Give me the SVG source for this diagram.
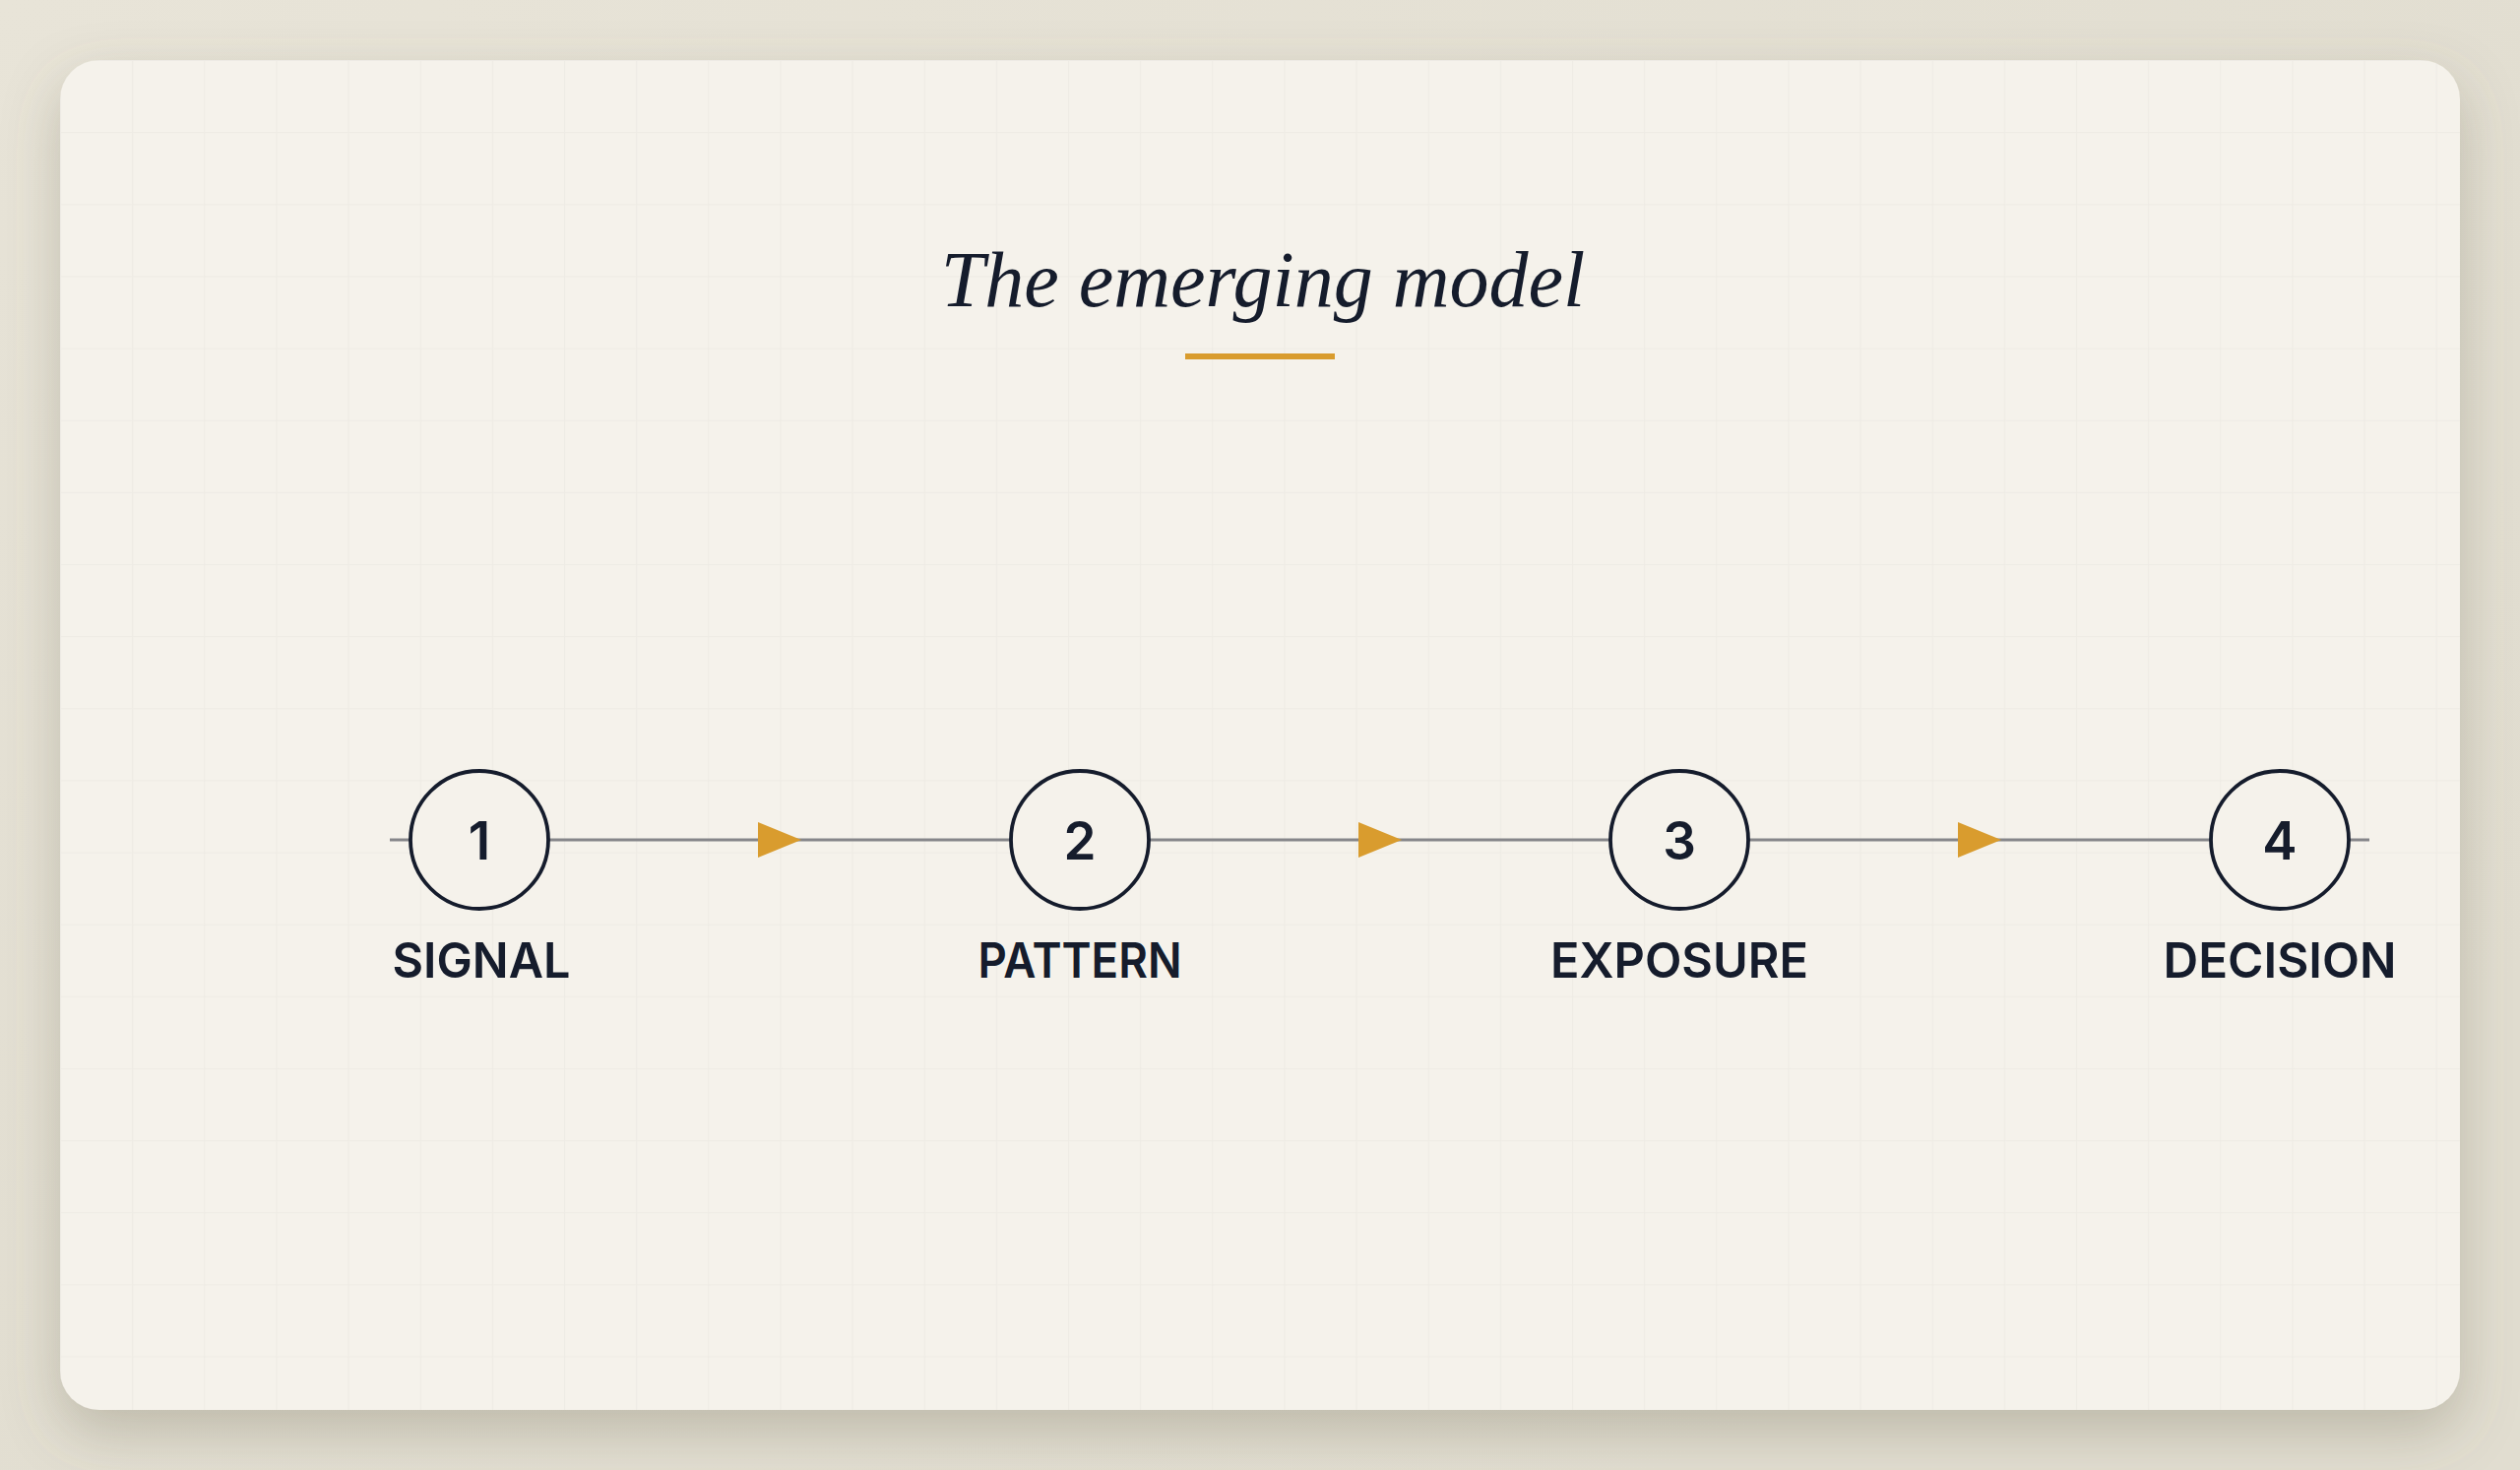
<svg xmlns="http://www.w3.org/2000/svg" width="2560" height="1493" viewBox="0 0 2560 1493">
  <defs>
    <filter id="shadow" x="-10%" y="-10%" width="120%" height="125%">
      <feDropShadow dx="0" dy="22" stdDeviation="28" flood-color="#6b6550" flood-opacity="0.3"/>
    </filter>
    <pattern id="grid" patternUnits="userSpaceOnUse" x="61" y="61" width="73.14" height="73.14">
      <path d="M0 0 H73.14 M0 0 V73.14" fill="none" stroke="#000" stroke-opacity="0.028" stroke-width="2"/>
    </pattern>
    <radialGradient id="bg" cx="0" cy="0" r="1.2">
      <stop offset="0" stop-color="#e8e4d8"/>
      <stop offset="1" stop-color="#e1ddd0"/>
    </radialGradient>
  </defs>
  <style>
    .node circle { fill: #f5f2eb; stroke: #151c2c; stroke-width: 3.8; }
    .num { font-family: Inter, "Liberation Sans", sans-serif; font-weight: 600; font-size: 53px; fill: #151c2c; text-anchor: middle; }
    .lbl { font-family: Inter, "Liberation Sans", sans-serif; font-weight: 600; font-size: 50px; fill: #151c2c; text-anchor: middle; }
    .wire { stroke: #86868a; stroke-width: 3; fill: none; }
    .arrow { fill: #d99c2e; }
  </style>

  <rect x="0" y="0" width="2560" height="1493" fill="url(#bg)"/>
  <rect x="61" y="61" width="2438" height="1371" rx="40" ry="40" fill="#f5f2eb" filter="url(#shadow)"/>
  <rect x="61" y="61" width="2438" height="1371" rx="40" ry="40" fill="url(#grid)"/>

  <g id="title">
    <text x="1283" y="311" font-family="'Liberation Serif', 'DejaVu Serif', serif" font-style="italic" font-size="80" fill="#151c2c" text-anchor="middle">The emerging model</text>
    <rect x="1204" y="359" width="152" height="6" fill="#d99c2e"/>
  </g>

  <g id="connectors">
    <line class="wire" x1="396" y1="853" x2="418" y2="853"/>
    <line class="wire" x1="557" y1="853" x2="1027" y2="853"/>
    <line class="wire" x1="1167" y1="853" x2="1636" y2="853"/>
    <line class="wire" x1="1776" y1="853" x2="2246" y2="853"/>
    <line class="wire" x1="2386" y1="853" x2="2407" y2="853"/>
    <polygon class="arrow" points="770,835 814,853 770,871"/>
    <polygon class="arrow" points="1380,835 1424,853 1380,871"/>
    <polygon class="arrow" points="1989,835 2033,853 1989,871"/>
  </g>

  <g id="node1" class="node">
    <circle cx="487" cy="853" r="70"/>
    <text class="num" x="487" y="873">1</text>
    <text class="lbl" x="489" y="993" textLength="181" lengthAdjust="spacingAndGlyphs">SIGNAL</text>
  </g>
  <g id="node2" class="node">
    <circle cx="1097" cy="853" r="70"/>
    <text class="num" x="1097" y="873">2</text>
    <text class="lbl" x="1097" y="993" textLength="207" lengthAdjust="spacingAndGlyphs">PATTERN</text>
  </g>
  <g id="node3" class="node">
    <circle cx="1706" cy="853" r="70"/>
    <text class="num" x="1706" y="873">3</text>
    <text class="lbl" x="1706" y="993" textLength="262" lengthAdjust="spacingAndGlyphs">EXPOSURE</text>
  </g>
  <g id="node4" class="node">
    <circle cx="2316" cy="853" r="70"/>
    <text class="num" x="2316" y="873">4</text>
    <text class="lbl" x="2316" y="993" textLength="237" lengthAdjust="spacingAndGlyphs">DECISION</text>
  </g>
</svg>
